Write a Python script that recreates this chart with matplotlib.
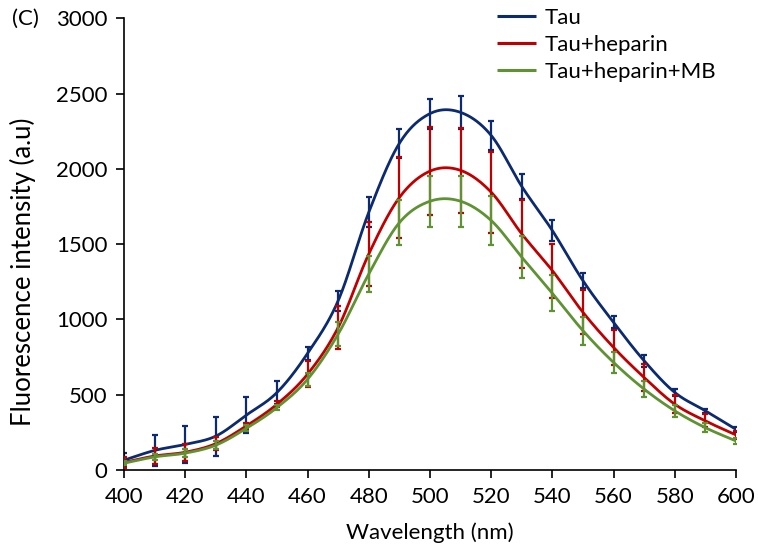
import numpy as np
import matplotlib
matplotlib.use("Agg")
import matplotlib.pyplot as plt

wavelength = [400, 410, 420, 430, 440, 450, 460, 470, 480, 490, 500,
              510, 520, 530, 540, 550, 560, 570, 580, 590, 600]
tau = [65, 130, 170, 225, 365, 515, 775, 1125, 1712, 2170, 2367,
       2375, 2222, 1883, 1590, 1257, 980, 725, 515, 393, 270]
tau_err = [45, 105, 125, 130, 118, 78, 45, 67, 100, 95, 100,
           110, 95, 85, 70, 50, 40, 40, 25, 15, 15]
tau_hep = [50, 93, 118, 175, 293, 437, 637, 947, 1435, 1810, 1985,
           1990, 1845, 1568, 1324, 1047, 814, 614, 437, 326, 233]
tau_hep_err = [35, 52, 55, 45, 20, 18, 88, 142, 215, 272, 290,
               283, 270, 228, 180, 147, 117, 88, 60, 43, 25]
tau_hep_mb = [45, 87, 112, 165, 277, 415, 603, 903, 1302, 1643, 1785,
              1785, 1657, 1413, 1173, 925, 714, 537, 393, 281, 193]
tau_hep_mb_err = [15, 20, 25, 25, 20, 15, 43, 78, 122, 147, 170,
                  168, 163, 138, 120, 93, 69, 55, 39, 28, 20]
labels = ["Tau", "Tau+heparin", "Tau+heparin+MB"]
colors = ["#0B2A6F", "#C00000", "#5E9232"]


def smooth(x, y, n=30):
    """Catmull-Rom drawing of a smoothed line through the points (Excel-style)."""
    x = np.asarray(x, float)
    y = np.asarray(y, float)
    xp = np.concatenate([[x[0]], x, [x[-1]]])
    yp = np.concatenate([[y[0]], y, [y[-1]]])
    xs, ys = [], []
    t = np.linspace(0, 1, n, endpoint=False)
    for i in range(1, len(xp) - 2):
        p0, p1, p2, p3 = [np.array([xp[j], yp[j]]) for j in (i - 1, i, i + 1, i + 2)]
        b1 = p1 + (p2 - p0) / 6
        b2 = p2 - (p3 - p1) / 6
        pts = ((1 - t) ** 3)[:, None] * p1 + (3 * (1 - t) ** 2 * t)[:, None] * b1 \
            + (3 * (1 - t) * t ** 2)[:, None] * b2 + (t ** 3)[:, None] * p2
        xs.append(pts[:, 0]); ys.append(pts[:, 1])
    xs.append([x[-1]]); ys.append([y[-1]])
    return np.concatenate(xs), np.concatenate(ys)


plt.rcParams['font.family'] = ['Lato', 'DejaVu Sans']
fig = plt.figure(figsize=(7.58, 5.5), dpi=100)
ax = fig.add_axes([124 / 758, 1 - 470 / 550, 612 / 758, (470 - 18.3) / 550])

series = [(tau, tau_err), (tau_hep, tau_hep_err), (tau_hep_mb, tau_hep_mb_err)]
for k, ((vals, errs), lab, col) in enumerate(zip(series, labels, colors)):
    sx, sy = smooth(wavelength, vals)
    ax.errorbar(wavelength, vals, yerr=errs, fmt='none', ecolor=col,
                elinewidth=1.6, capsize=2.5, capthick=1.6, zorder=2 + 2 * k)
    ax.plot(sx, sy, color=col, lw=2.0, label=lab, zorder=3 + 2 * k,
            solid_capstyle='butt')

ax.set_xlim(400, 600)
ax.set_ylim(0, 3000)
ax.set_xticks(np.arange(400, 601, 20))
ax.set_yticks(np.arange(0, 3001, 500))
ax.spines['top'].set_visible(False)
ax.spines['right'].set_visible(False)
for s in ('left', 'bottom'):
    ax.spines[s].set_linewidth(1.2)
ax.tick_params(direction='out', length=6, width=1.2, labelsize=16, pad=6)
ax.set_xlabel("Wavelength (nm)", fontsize=16, labelpad=11)
yl = ax.set_ylabel("Fluorescence intensity (a.u)", fontsize=18.5)
yl.set_va('center')
ax.yaxis.set_label_coords((23 - 124) / 612, (470 - 272) / 451.7)
fig.text(12 / 758, 1 - 19 / 550, "(C)", fontsize=16, va='center', ha='left')

leg = ax.legend(loc='upper left', bbox_to_anchor=(497 / 758, 1 - 8 / 550),
                bbox_transform=fig.transFigure, frameon=False, fontsize=16,
                handlelength=1.75, handletextpad=0.4, labelspacing=0.31,
                borderpad=0, borderaxespad=0)
for h in leg.get_lines():
    h.set_linewidth(2.2)

fig.savefig("out.png", dpi=100)
